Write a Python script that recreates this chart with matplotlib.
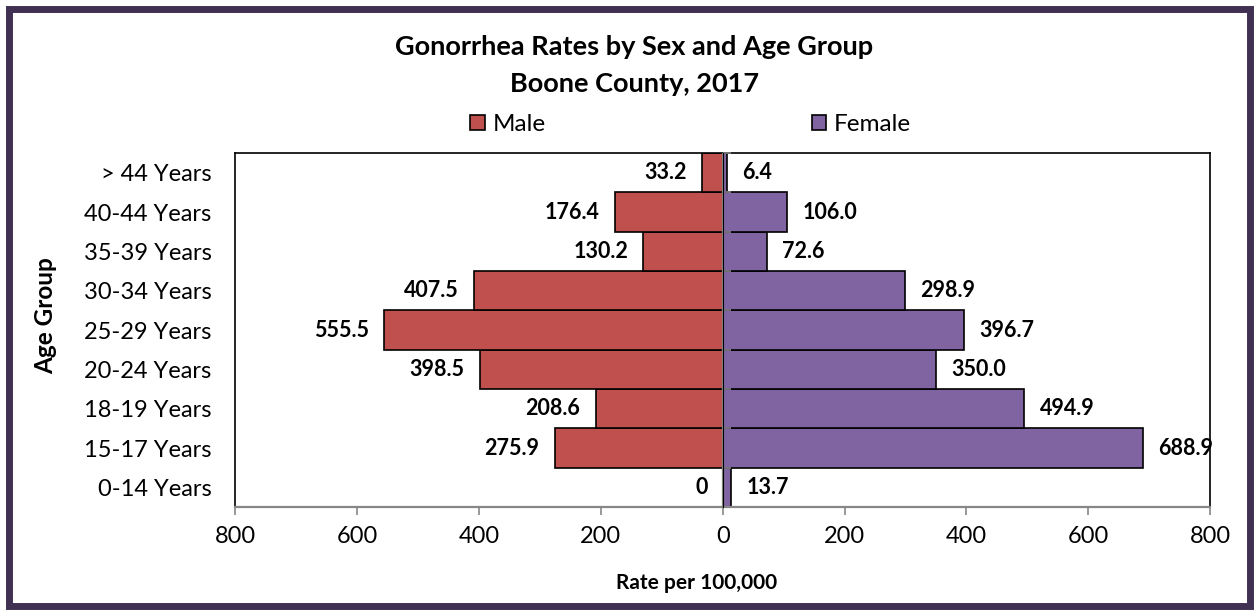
from __future__ import annotations

import matplotlib

matplotlib.use('Agg')

import matplotlib.patches as mpatches
import matplotlib.pyplot as plt
import numpy as np


AGE_GROUPS = [
    '0-14 Years', '15-17 Years', '18-19 Years', '20-24 Years', '25-29 Years',
    '30-34 Years', '35-39 Years', '40-44 Years', '> 44 Years',
]
MALE_RATES = [0, 275.9, 208.6, 398.5, 555.5, 407.5, 130.2, 176.4, 33.2]
FEMALE_RATES = [13.7, 688.9, 494.9, 350.0, 396.7, 298.9, 72.6, 106.0, 6.4]
MALE_LABELS = ['0', '275.9', '208.6', '398.5', '555.5', '407.5', '130.2', '176.4', '33.2']
FEMALE_LABELS = ['13.7', '688.9', '494.9', '350.0', '396.7', '298.9', '72.6', '106.0', '6.4']
X_TICKS = [-800, -600, -400, -200, 0, 200, 400, 600, 800]

MALE_COLOR = '#C0504D'
FEMALE_COLOR = '#8064A2'
BORDER_COLOR = '#403152'
AXIS_GRAY = '#868686'
FONT = ['Lato', 'DejaVu Sans']

plt.rcParams['font.family'] = FONT


def draw_chart() -> plt.Figure:
    fig = plt.figure(figsize=(12.59, 6.15), dpi=100)
    ax = fig.add_axes([0.1867, 0.1756, 0.7746, 0.5756])

    y = np.arange(len(AGE_GROUPS))
    male = -np.array(MALE_RATES)
    female = np.array(FEMALE_RATES)

    ax.barh(y, male, height=1.0, color=MALE_COLOR, edgecolor='black', linewidth=1.2, label='Male', zorder=2)
    ax.barh(y, female, height=1.0, color=FEMALE_COLOR, edgecolor='black', linewidth=1.2, label='Female', zorder=2)
    ax.axvline(0, color=AXIS_GRAY, linewidth=1.6, zorder=3)

    # category axis sits at zero with small tick marks between groups
    mid_axis = ax.secondary_yaxis(0.5)
    mid_axis.set_zorder(4)
    mid_axis.set_yticks(np.arange(len(AGE_GROUPS) + 1) - 0.5)
    mid_axis.set_yticklabels([])
    mid_axis.tick_params(length=6, width=1.2, color=AXIS_GRAY, direction='out')
    mid_axis.spines['left'].set_color(AXIS_GRAY)
    mid_axis.spines['left'].set_linewidth(1.6)

    for yi, val, txt in zip(y, male, MALE_LABELS):
        ax.annotate(txt, (val, yi), xytext=(-11, 0), textcoords='offset points',
                    ha='right', va='center', fontsize=15.5, fontweight='bold')
    for yi, val, txt in zip(y, female, FEMALE_LABELS):
        ax.annotate(txt, (val, yi), xytext=(11, 0), textcoords='offset points',
                    ha='left', va='center', fontsize=15.5, fontweight='bold')

    ax.set_xlim(-800, 800)
    ax.set_ylim(-0.5, len(AGE_GROUPS) - 0.5)
    ax.set_xticks(X_TICKS)
    ax.set_xticklabels([str(abs(t)) for t in X_TICKS], fontsize=17)
    ax.set_yticks(y)
    ax.set_yticklabels(AGE_GROUPS, fontsize=17)
    ax.tick_params(axis='y', length=0, pad=17)
    ax.tick_params(axis='x', length=6, width=1.2, color=AXIS_GRAY, pad=8, direction='out')

    for side in ('left', 'top', 'right'):
        ax.spines[side].set_color('black')
        ax.spines[side].set_linewidth(1.2)
    ax.spines['bottom'].set_color(AXIS_GRAY)
    ax.spines['bottom'].set_linewidth(1.6)

    fig.text(0.5036, 0.9236, 'Gonorrhea Rates by Sex and Age Group', ha='center', va='center',
             fontsize=19.5, fontweight='bold')
    fig.text(0.5036, 0.863, 'Boone County, 2017', ha='center', va='center',
             fontsize=19.5, fontweight='bold')
    fig.text(0.036, 0.486, 'Age Group', rotation=90, ha='center', va='center',
             fontsize=17.5, fontweight='bold')
    fig.text(0.5536, 0.052, 'Rate per 100,000', ha='center', va='center',
             fontsize=15, fontweight='bold')

    fig.legend(loc='center', bbox_to_anchor=(0.5485, 0.797), ncol=2, frameon=False,
               fontsize=17.5, handlelength=0.6, handleheight=0.6, handletextpad=0.3,
               columnspacing=10.95)

    border = mpatches.Rectangle((0.0075, 0.0146), 0.985, 0.9708, transform=fig.transFigure,
                                fill=False, edgecolor=BORDER_COLOR, linewidth=5)
    fig.patches.append(border)
    return fig


if __name__ == '__main__':
    fig = draw_chart()
    fig.savefig('out.png', dpi=100)
    plt.close(fig)
